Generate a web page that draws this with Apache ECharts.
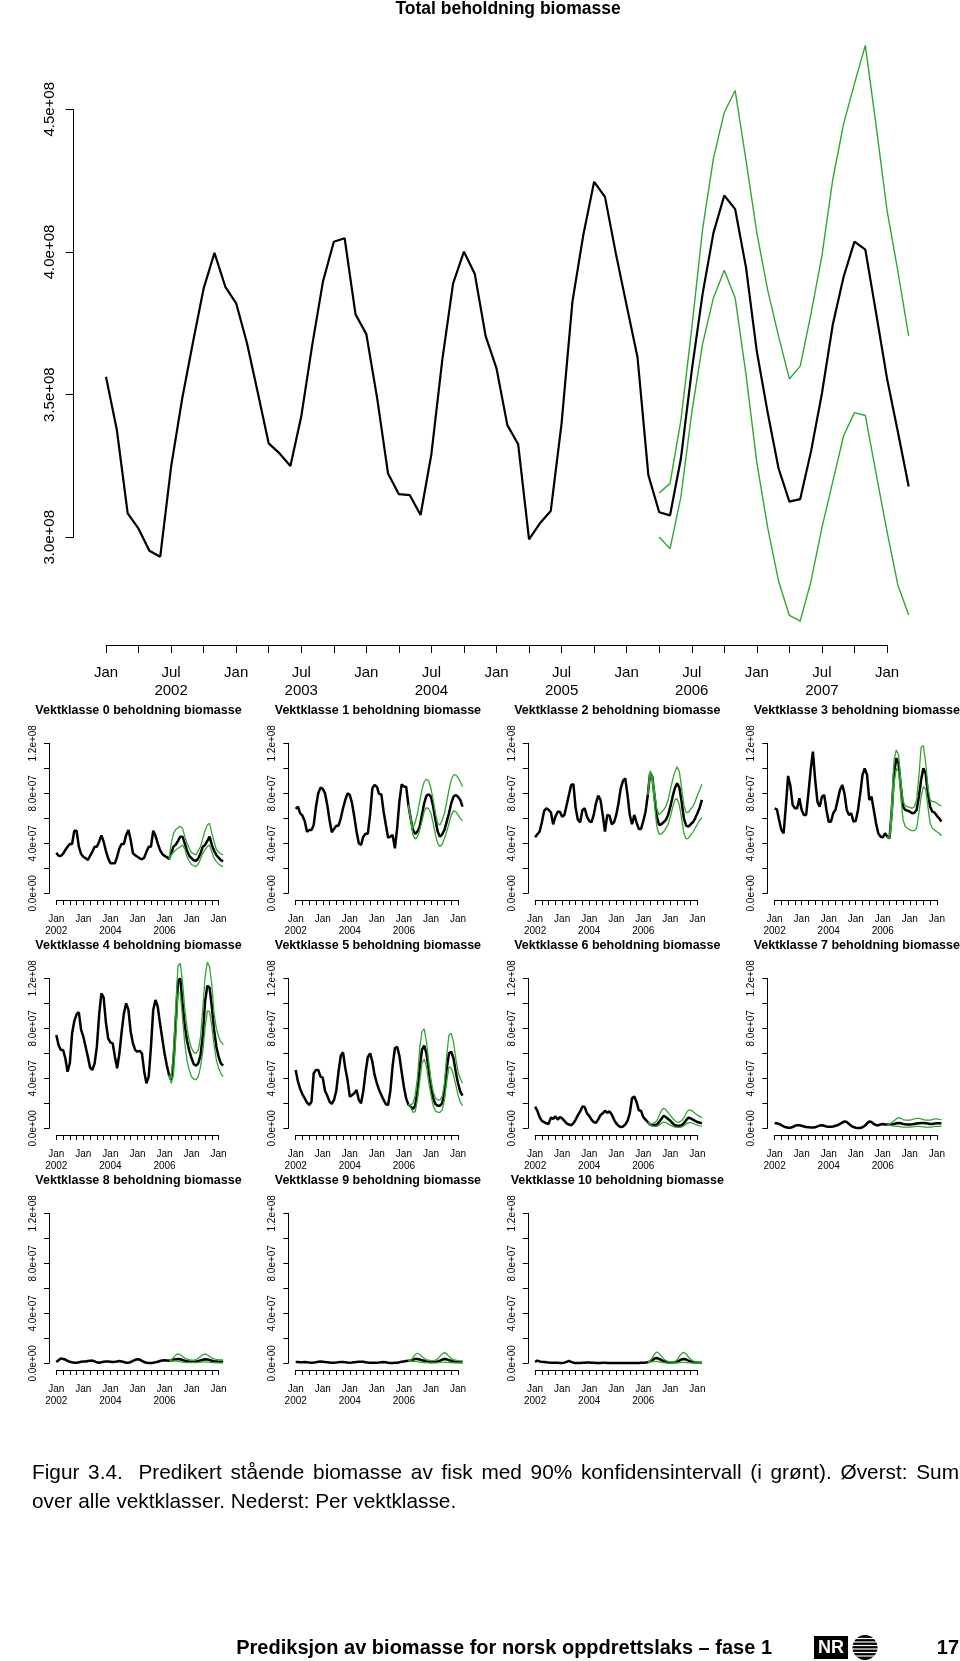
<!DOCTYPE html>
<html>
<head>
<meta charset="utf-8">
<script src="https://cdn.jsdelivr.net/npm/echarts@6/dist/echarts.min.js"></script>
<style>
html,body{margin:0;padding:0;background:#fff;}
#chart{width:960px;height:1661px;}
</style>
</head>
<body>
<div id="chart"></div>
<script>
// ---- DATA (values in millions; month index 0 = Jan 2002) ----
const firstYear = 2002;
const totalTitle = 'Total beholdning biomasse';
const totalMean = [356.3,337.6,308.4,303.0,295.3,293.2,324.7,348.1,368.0,387.2,
  399.7,387.8,382.0,368.0,350.6,332.9,329.4,325.0,342.3,367.1,
  389.6,403.6,404.8,378.2,371.2,348.7,322.4,315.1,314.8,307.8,
  329.2,362.1,389.0,400.1,392.3,370.5,359.2,339.3,332.6,299.3,
  304.9,309.2,339.9,382.6,405.9,424.6,419.3,399.5,381.2,363.1,
  321.8,
  308.8,307.7,327.6,358.4,385.3,406.7,419.8,415.0,394.6,365.1,
  343.7,324.2,312.5,313.4,330.2,350.4,374.5,391.3,403.6,400.8,
  378.5,355.7,337.0,317.8];
const totalCIStart = 51;
const totalUpper = [315.5,318.9,341.0,373.2,408.0,432.8,448.9,456.6,432.2,406.7,
  386.6,370.5,355.5,360.0,378.5,398.6,425.4,444.9,459.0,472.4,444.2,414.7,393.3,370.5];
const totalLower = [300.1,296.0,314.2,343.7,367.8,383.9,393.6,383.9,357.1,326.2,
  303.4,284.7,272.6,270.6,284.7,303.4,319.5,335.6,343.7,342.7,322.2,302.1,283.3,272.8];

const panelTitles = ['Vektklasse 0 beholdning biomasse','Vektklasse 1 beholdning biomasse',
  'Vektklasse 2 beholdning biomasse','Vektklasse 3 beholdning biomasse',
  'Vektklasse 4 beholdning biomasse','Vektklasse 5 beholdning biomasse',
  'Vektklasse 6 beholdning biomasse','Vektklasse 7 beholdning biomasse',
  'Vektklasse 8 beholdning biomasse','Vektklasse 9 beholdning biomasse',
  'Vektklasse 10 beholdning biomasse'];
const panelCIStart = 50;

const vk0Mean = [32.5,30.0,29.9,31.5,34.7,37.3,39.5,39.5,50.1,50.1,
  37.3,31.5,29.3,28.0,26.7,30.0,33.3,37.3,37.3,41.3,
  46.4,41.3,34.0,28.0,24.0,24.0,24.0,29.3,36.0,39.5,
  39.5,46.7,50.7,42.7,32.0,30.5,29.3,28.0,27.2,28.5,
  33.3,37.3,37.3,50.0,46.0,40.0,34.7,31.5,30.0,29.0,
  27.5,
  32.0,37.3,39.0,42.0,45.3,45.3,40.0,34.0,30.0,28.0,26.5,26.0,28.0,32.0,37.3,38.7,42.0,45.3,38.7,34.0,30.7,28.5,26.5,25.6];
const vk0Upper = [27.5,40.0,48.0,51.0,52.5,53.5,52.0,45.3,40.0,36.0,32.5,31.5,30.7,34.0,37.3,44.0,50.0,54.7,56.0,48.0,41.3,35.0,33.0,31.5,30.7];
const vk0Lower = [27.5,30.7,33.0,34.7,36.0,37.3,38.7,35.5,29.3,25.5,23.0,22.0,21.3,23.5,27.5,32.0,35.0,37.3,38.7,33.0,28.0,25.5,23.5,22.1,21.3];

const vk1Mean = [67.5,69.3,64.0,62.1,57.9,49.3,50.7,50.7,54.7,69.3,
  80.0,84.5,83.5,80.0,70.7,58.7,48.8,51.5,54.1,54.1,
  60.0,68.0,74.7,80.0,78.7,72.0,61.3,49.3,40.0,38.7,
  45.3,47.7,47.7,62.7,84.0,86.7,85.3,79.5,79.2,65.3,
  54.7,44.5,45.3,46.7,36.0,52.0,73.3,87.2,85.3,85.3,
  70.7,
  60.0,50.7,47.5,49.3,53.3,62.7,72.0,78.1,79.2,77.3,69.3,58.7,49.3,45.3,47.2,50.7,57.3,64.0,72.0,77.3,78.7,77.3,74.7,69.3];
const vk1Upper = [70.7,60.0,52.0,56.8,64.0,73.3,82.7,89.3,91.2,89.9,84.0,74.7,64.0,56.0,54.7,58.7,64.0,73.3,82.7,90.7,94.7,94.7,92.5,89.3,85.3];
const vk1Lower = [70.7,60.0,46.7,43.5,45.3,50.7,57.3,65.3,68.5,67.5,64.0,56.0,46.7,40.0,37.3,39.2,44.0,49.3,56.0,62.7,65.9,65.3,62.7,60.0,57.9];

const vk2Mean = [44.8,47.2,49.3,56.8,65.9,68.0,66.7,64.8,55.2,61.3,
  65.3,65.3,61.3,62.7,70.7,78.7,86.7,87.2,68.0,58.7,
  56.8,66.7,68.0,61.3,57.9,56.8,62.7,72.0,78.1,74.7,
  62.7,49.3,62.7,62.1,55.2,56.8,62.7,72.0,84.0,89.9,
  92.0,78.7,62.7,55.2,62.7,56.8,51.5,51.5,57.9,65.3,
  78.7,
  96.0,93.3,77.3,61.3,54.7,55.2,56.8,58.7,62.7,69.3,77.3,84.0,88.0,84.5,73.3,60.0,54.1,53.3,55.2,56.8,60.0,64.0,68.5,74.7];
const vk2Upper = [78.7,97.9,94.7,81.3,67.5,62.7,64.8,66.7,69.3,74.7,82.7,90.7,97.3,101.3,97.3,84.0,70.7,64.8,64.8,67.5,69.3,73.3,78.7,82.7,87.2];
const vk2Lower = [78.7,96.0,90.7,70.7,53.3,47.2,47.5,49.3,52.0,55.2,61.3,68.5,74.7,75.7,70.7,60.0,48.0,43.5,44.0,46.7,48.8,52.0,55.2,58.7,60.5];

const vk3Mean = [68.0,67.2,58.7,50.7,48.0,70.0,93.9,86.0,70.7,68.0,
  68.0,76.0,66.7,62.7,62.7,80.0,98.7,113.3,90.7,73.3,
  69.3,77.3,78.7,66.7,57.3,57.3,64.0,66.7,74.7,82.7,
  86.7,80.0,66.7,62.7,64.0,57.3,58.0,66.7,80.0,94.7,
  100.0,94.7,74.7,77.3,66.7,56.0,48.0,45.3,44.8,48.0,
  45.3,
  44.0,66.7,96.0,108.0,104.0,85.3,69.3,66.7,66.1,65.3,64.0,64.5,66.7,77.3,90.7,100.0,96.0,80.0,69.3,65.3,64.5,62.0,60.0,57.3];
const vk3Upper = [45.3,44.0,74.7,106.7,114.7,110.7,89.3,73.3,69.9,69.3,68.8,68.0,69.3,74.7,93.3,117.0,118.0,105.0,85.0,74.7,73.3,73.3,72.0,70.7,69.9];
const vk3Lower = [45.3,44.0,58.7,88.0,100.0,97.3,77.3,58.7,53.3,52.0,50.7,50.1,50.1,52.0,64.0,77.3,85.3,83.2,69.3,56.0,52.0,50.7,49.3,48.0,46.0];

const vk4Mean = [74.7,66.7,62.7,62.7,56.0,45.3,52.0,76.0,85.9,91.2,
  92.8,78.7,73.3,65.3,57.3,48.5,46.7,52.0,65.3,90.7,
  108.0,104.5,84.8,72.0,68.8,68.0,57.3,48.0,60.0,77.3,
  92.0,100.0,94.7,77.3,68.0,62.7,61.3,61.9,60.0,45.3,
  36.0,41.3,65.3,94.7,102.7,97.3,84.0,72.0,60.0,50.7,
  42.7,
  38.7,53.3,85.0,118.0,120.0,100.0,82.0,70.0,62.0,56.0,51.2,50.1,52.0,58.7,74.7,101.3,114.1,112.5,97.3,78.7,65.3,57.3,52.0,50.1];
const vk4Upper = [42.7,40.0,64.0,98.0,130.0,132.0,117.0,96.0,80.0,70.0,64.0,60.8,60.0,62.7,73.3,96.0,121.3,132.8,129.3,114.7,92.0,80.0,73.3,69.3,66.7];
const vk4Lower = [42.7,36.0,42.7,72.0,108.0,108.0,88.0,68.0,54.0,46.5,41.3,39.5,38.7,41.3,49.3,61.3,80.0,93.9,93.3,81.3,66.7,54.7,48.0,44.0,41.3];

const vk5Mean = [46.7,37.3,31.5,27.2,24.0,20.5,18.7,21.3,44.0,46.7,
  46.7,41.3,40.5,30.0,26.1,21.3,19.5,22.7,30.0,45.3,
  58.0,60.8,48.0,38.7,25.3,26.7,28.0,30.7,22.7,20.0,
  30.0,45.0,57.0,60.0,53.3,42.7,36.0,30.7,26.7,22.7,
  19.2,18.7,30.0,50.0,64.0,65.3,58.0,45.0,33.0,24.0,
  19.0,
  17.3,15.5,18.1,29.3,48.0,62.7,66.1,60.0,46.7,33.3,24.0,19.2,18.1,18.1,20.0,29.3,48.0,60.0,61.3,56.0,45.3,36.0,29.3,26.1];
const vk5Upper = [19.0,18.7,20.0,26.7,40.0,64.0,77.3,79.5,69.3,53.3,38.7,29.3,24.0,22.7,22.7,25.3,36.0,58.7,74.7,76.0,69.3,56.0,45.3,40.0,36.0];
const vk5Lower = [19.0,16.5,12.8,13.3,22.7,37.3,52.0,55.5,49.3,37.3,26.7,18.1,13.9,12.8,12.8,14.7,22.7,37.3,49.3,48.0,42.7,34.7,26.7,21.3,18.1];

const vk6Mean = [17.3,14.0,9.0,6.0,5.0,4.0,3.5,8.5,7.5,9.5,
  7.0,9.0,8.0,6.0,4.0,3.0,2.5,4.0,7.0,10.5,
  13.5,17.5,17.0,12.0,10.0,7.0,5.0,4.5,7.0,10.5,
  12.0,14.0,12.5,13.5,11.0,7.0,4.0,2.0,1.0,1.5,
  3.0,6.0,12.0,24.0,25.5,21.0,14.5,14.0,9.0,7.0,
  5.0,
  3.0,2.5,2.5,3.0,5.0,7.5,10.0,9.0,7.5,6.0,4.0,2.5,2.0,2.0,2.5,4.0,6.5,8.5,8.0,7.0,6.0,5.0,4.5,4.0];
const vk6Upper = [5.0,3.5,3.5,4.5,6.0,10.0,14.0,16.0,15.0,12.5,10.5,8.0,6.0,5.0,5.0,6.0,8.5,12.0,14.5,14.5,13.5,12.0,10.5,9.5,8.5];
const vk6Lower = [5.0,2.5,1.8,1.5,1.5,2.5,4.0,5.0,4.5,3.5,2.5,1.5,1.0,0.8,0.8,1.0,2.0,3.5,4.5,4.5,4.0,3.0,2.5,2.0,1.8];

const vk7Mean = [4.0,4.0,3.5,2.5,1.5,0.8,0.5,0.5,1.0,2.0,
  2.5,2.5,2.0,1.5,1.0,0.8,0.6,0.6,0.8,1.5,
  2.2,2.5,2.0,1.5,1.2,1.2,1.5,2.0,2.5,3.5,
  4.5,5.5,5.0,3.5,2.0,1.0,0.5,0.3,0.3,0.8,
  2.0,4.0,5.5,5.0,3.5,2.5,2.5,3.0,3.5,3.0,
  3.0,
  3.0,3.2,3.5,4.0,4.3,4.0,3.5,3.2,3.0,3.0,3.2,3.5,3.8,4.0,4.2,4.2,4.0,3.8,3.5,3.5,3.8,4.0,4.0,3.8];
const vk7Upper = [3.0,3.5,4.5,6.0,7.5,8.5,8.0,7.0,6.5,6.5,6.5,7.0,7.5,8.0,8.0,7.5,7.0,6.5,6.5,6.5,7.0,7.5,7.5,7.2,7.0];
const vk7Lower = [3.0,2.5,2.0,1.8,1.5,1.5,1.2,1.0,1.0,1.0,1.0,1.2,1.3,1.5,1.5,1.3,1.2,1.0,1.0,1.0,1.2,1.5,1.5,1.5,1.5];

const vk8Mean = [1.0,2.5,3.8,3.5,3.0,2.0,1.2,0.8,0.5,0.5,
  0.8,1.2,1.5,1.5,1.8,2.0,2.2,1.5,0.8,0.5,
  0.8,1.2,1.5,1.5,1.3,1.0,1.2,1.5,1.8,1.5,
  1.0,0.5,0.5,1.0,2.0,2.8,3.2,3.0,2.0,1.0,
  0.5,0.3,0.3,0.5,0.8,1.2,1.8,2.2,2.5,2.3,
  2.0,
  2.5,3.0,3.3,3.5,3.2,2.6,2.0,1.6,1.4,1.3,1.3,1.5,1.8,2.3,2.8,3.2,3.0,2.6,2.0,1.7,1.5,1.3,1.2,1.2];
const vk8Upper = [2.0,3.0,4.5,6.5,7.5,7.0,5.5,4.2,3.4,2.9,2.6,2.6,3.0,4.0,5.5,7.0,7.5,6.8,5.5,4.2,3.5,3.2,3.0,2.8,2.8];
const vk8Lower = [2.0,2.0,1.8,1.8,1.5,1.2,1.0,0.8,0.6,0.5,0.5,0.5,0.6,0.8,1.0,1.2,1.2,1.0,0.8,0.6,0.5,0.4,0.3,0.3,0.3];

const vk9Mean = [1.0,1.0,0.8,0.8,1.0,0.8,0.6,0.5,0.6,0.8,
  1.2,1.5,1.3,1.0,0.8,0.6,0.5,0.5,0.6,0.8,
  1.0,1.0,0.8,0.6,0.5,0.6,0.8,1.0,1.2,1.3,
  1.2,0.8,0.6,0.5,0.4,0.4,0.5,0.6,0.8,1.0,
  0.8,0.5,0.3,0.3,0.4,0.5,0.8,1.2,1.5,1.8,
  2.0,
  2.2,2.8,3.5,3.5,3.0,2.5,2.0,1.5,1.2,1.0,1.0,1.2,1.5,2.2,3.0,3.5,3.2,2.5,2.0,1.5,1.2,1.0,1.0,1.0];
const vk9Upper = [2.0,2.5,4.5,7.0,8.0,7.0,5.5,4.0,3.0,2.5,2.2,2.2,2.5,3.5,5.5,7.5,8.5,7.5,5.5,4.0,3.0,2.5,2.2,2.0,2.0];
const vk9Lower = [2.0,1.8,1.5,1.5,1.3,1.0,0.8,0.6,0.5,0.4,0.3,0.3,0.4,0.5,0.7,1.0,1.0,0.8,0.6,0.5,0.4,0.3,0.3,0.3,0.3];

const vk10Mean = [1.0,2.2,1.5,1.2,1.0,0.8,0.6,0.5,0.5,0.5,
  0.4,0.3,0.3,0.5,1.2,2.0,1.2,0.5,0.3,0.3,
  0.3,0.4,0.5,0.6,0.6,0.5,0.4,0.3,0.3,0.3,
  0.4,0.4,0.3,0.3,0.3,0.3,0.3,0.3,0.3,0.3,
  0.3,0.3,0.3,0.3,0.3,0.3,0.3,0.4,0.5,0.6,
  0.8,
  1.5,2.5,3.8,4.2,3.5,2.5,1.8,1.2,0.8,0.6,0.6,0.8,1.2,2.2,3.2,3.5,3.0,2.2,1.5,1.0,0.8,0.6,0.5,0.5];
const vk10Upper = [0.8,2.0,4.5,7.5,9.0,8.0,5.5,3.5,2.2,1.5,1.2,1.2,1.5,2.8,5.5,8.0,8.8,7.5,5.0,3.2,2.0,1.5,1.2,1.0,1.0];
const vk10Lower = [0.8,1.2,1.2,1.5,1.5,1.2,0.8,0.5,0.3,0.2,0.2,0.2,0.3,0.4,0.6,0.8,0.8,0.6,0.4,0.3,0.2,0.2,0.1,0.1,0.1];

const captionLine1 = 'Figur 3.4.  Predikert stående biomasse av fisk med 90% konfidensintervall (i grønt). Øverst: Sum';
const captionLine2 = 'over alle vektklasser. Nederst: Per vektklasse.';
const footerText = 'Prediksjon av biomasse for norsk oppdrettslaks – fase 1';
const pageNumber = '17';

// ---- LAYOUT ----
const FONT = '"Liberation Sans", Arial, Helvetica, sans-serif';
const GREEN = '#2fa82f';
const panels = [
  [vk0Mean, vk0Upper, vk0Lower], [vk1Mean, vk1Upper, vk1Lower],
  [vk2Mean, vk2Upper, vk2Lower], [vk3Mean, vk3Upper, vk3Lower],
  [vk4Mean, vk4Upper, vk4Lower], [vk5Mean, vk5Upper, vk5Lower],
  [vk6Mean, vk6Upper, vk6Lower], [vk7Mean, vk7Upper, vk7Lower],
  [vk8Mean, vk8Upper, vk8Lower], [vk9Mean, vk9Upper, vk9Lower],
  [vk10Mean, vk10Upper, vk10Lower]
];
const colX = [0, 239.4, 478.8, 718.3];
const rowTop = [743.3, 978.3, 1213.3];
const rowTitleY = [711, 946, 1181];

function sci(v) {
  const s = (v * 1e6).toExponential(1);
  const m = s.match(/^(-?[\d.]+)e([+-])(\d+)$/);
  return m[1] + 'e' + m[2] + m[3].padStart(2, '0');
}

const grids = [], xAxes = [], yAxes = [], series = [], graphics = [];

function lineSeries(idx, data, color, width, z) {
  return {type: 'line', xAxisIndex: idx, yAxisIndex: idx, data: data,
    showSymbol: false, symbol: 'none', silent: true,
    lineStyle: {color: color, width: width}, itemStyle: {color: color}, z: z};
}
function hiddenAxis(idx, min, max) {
  return {type: 'value', gridIndex: idx, min: min, max: max, show: false,
    splitLine: {show: false}, axisLine: {show: false}, axisTick: {show: false}, axisLabel: {show: false}};
}

// Adds an axis frame (visible axes) + a data frame (hidden axes spanning a larger area, same scale)
function addChart(ax, dataBox, xFmt, yFmt, style) {
  const ppx = ax.width / (ax.xMax - ax.xMin);
  const ppy = ax.height / (ax.yMax - ax.yMin);
  const gi = grids.length;
  grids.push({left: ax.left, top: ax.top, width: ax.width, height: ax.height});
  xAxes.push({type: 'value', gridIndex: gi, min: ax.xMin, max: ax.xMax, interval: ax.xInt, offset: ax.xOffset,
    splitLine: {show: false},
    axisLine: {onZero: false, lineStyle: {color: '#000', width: 1}},
    axisTick: {length: style.tick, lineStyle: {color: '#000', width: 1}},
    axisLabel: {color: '#000', fontFamily: FONT, fontSize: style.font, lineHeight: style.lh, margin: style.xMargin,
      formatter: xFmt}});
  yAxes.push({type: 'value', gridIndex: gi, min: ax.yMin, max: ax.yMax, interval: ax.yInt, offset: ax.yOffset,
    splitLine: {show: false},
    axisLine: {show: true, onZero: false, lineStyle: {color: '#000', width: 1}},
    axisTick: {show: true, length: style.tick, lineStyle: {color: '#000', width: 1}},
    axisLabel: {color: '#000', fontFamily: FONT, fontSize: style.font, rotate: 90, margin: style.yMargin,
      formatter: yFmt}});
  const di = grids.length;
  const L = dataBox.left, R = dataBox.right, T = dataBox.top, B = dataBox.bottom;
  grids.push({left: L, top: T, width: R - L, height: B - T});
  xAxes.push(hiddenAxis(di, ax.xMin + (L - ax.left) / ppx, ax.xMin + (R - ax.left) / ppx));
  yAxes.push(hiddenAxis(di, ax.yMin - (B - (ax.top + ax.height)) / ppy, ax.yMax + (ax.top - T) / ppy));
  return di;
}

// top chart
const topIdx = addChart(
  {left: 106, top: 109.3, width: 781, height: 428, xMin: 0, xMax: 72, xInt: 3, yMin: 300, yMax: 450, yInt: 50,
   xOffset: 107.7, yOffset: 32.5},
  {left: 60, right: 950, top: 15, bottom: 655},
  function (v) {
    const m = v % 12;
    if (m === 0) return 'Jan';
    if (m === 6) return 'Jul\n' + (firstYear + Math.floor(v / 12));
    return '';
  },
  function (v) { return sci(v); },
  {tick: 8, font: 15, lh: 18, xMargin: 19, yMargin: 16});
series.push(lineSeries(topIdx, totalMean.map((v, i) => [i, v]), '#000', 2.2, 2));
series.push(lineSeries(topIdx, totalUpper.map((v, k) => [totalCIStart + k, v]), GREEN, 1.4, 3));
series.push(lineSeries(topIdx, totalLower.map((v, k) => [totalCIStart + k, v]), GREEN, 1.4, 3));
graphics.push({type: 'text', x: 508, y: 9.5, style: {text: totalTitle,
  font: 'bold 17.5px ' + FONT, fill: '#000', align: 'center', verticalAlign: 'middle'}});

// small panels
panels.forEach(function (p, k) {
  const r = Math.floor(k / 4), c = k % 4;
  const idx = addChart(
    {left: colX[c] + 56.3, top: rowTop[r], width: 162.3, height: 150, xMin: 0, xMax: 72, xInt: 3,
     yMin: 0, yMax: 120, yInt: 20, xOffset: 6.7, yOffset: 7.3},
    {left: colX[c] + 45, right: colX[c] + 234, top: rowTop[r] - 25, bottom: rowTop[r] + 160},
    function (v) {
      if (v % 12 !== 0) return '';
      const y = firstYear + v / 12;
      return (y % 2 === 0 && y < 2008) ? 'Jan\n' + y : 'Jan';
    },
    function (v) { return v % 40 === 0 ? sci(v) : ''; },
    {tick: 5, font: 10, lh: 11.5, xMargin: 13.5, yMargin: 11});
  series.push(lineSeries(idx, p[0].map((v, i) => [i, v]), '#000', 2.5, 2));
  series.push(lineSeries(idx, p[1].map((v, j) => [panelCIStart + j, v]), GREEN, 1.3, 3));
  series.push(lineSeries(idx, p[2].map((v, j) => [panelCIStart + j, v]), GREEN, 1.3, 3));
  graphics.push({type: 'text', x: colX[c] + 138.5, y: rowTitleY[r], style: {text: panelTitles[k],
    font: 'bold 12.5px ' + FONT, fill: '#000', align: 'center', verticalAlign: 'middle'}});
});

// caption (first line justified like the source document; a double space counts as a wider gap)
const capFont = '20.8px ' + FONT;
(function () {
  const ctx = document.createElement('canvas').getContext('2d');
  ctx.font = capFont;
  const tokens = captionLine1.split(' ');
  const words = [], gapsBefore = [];
  let pending = 0;
  tokens.forEach(function (t) {
    if (t === '') { pending += 0.8; return; }
    gapsBefore.push(words.length === 0 ? 0 : 1 + pending);
    pending = 0;
    words.push(t);
  });
  const widths = words.map(w => ctx.measureText(w).width);
  const x0 = 32, x1 = 959;
  const totalW = widths.reduce((a, b) => a + b, 0);
  const units = gapsBefore.reduce((a, b) => a + b, 0);
  const gap = (x1 - x0 - totalW) / units;
  let x = x0;
  words.forEach(function (w, i) {
    x += gapsBefore[i] * gap;
    graphics.push({type: 'text', x: x, y: 1473, style: {text: w, font: capFont, fill: '#000',
      align: 'left', verticalAlign: 'middle'}});
    x += widths[i];
  });
})();
graphics.push({type: 'text', x: 32, y: 1502.5, style: {text: captionLine2,
  font: capFont, fill: '#000', align: 'left', verticalAlign: 'middle'}});
graphics.push({type: 'text', x: 772, y: 1648, style: {text: footerText,
  font: 'bold 20px ' + FONT, fill: '#000', align: 'right', verticalAlign: 'middle'}});
graphics.push({type: 'text', x: 959, y: 1648, style: {text: pageNumber,
  font: 'bold 20px ' + FONT, fill: '#000', align: 'right', verticalAlign: 'middle'}});
// NR logo
graphics.push({type: 'rect', shape: {x: 814, y: 1636, width: 34, height: 23}, style: {fill: '#000'}});
graphics.push({type: 'text', x: 831, y: 1648, style: {text: 'NR', font: 'bold 18px ' + FONT,
  fill: '#fff', align: 'center', verticalAlign: 'middle'}});
graphics.push({type: 'circle', shape: {cx: 865, cy: 1647.5, r: 12.5}, style: {fill: '#000'}});
[1638.5, 1642, 1645.5, 1649, 1652.5, 1656].forEach(function (yy) {
  graphics.push({type: 'line', shape: {x1: 851, y1: yy, x2: 879, y2: yy},
    style: {stroke: '#fff', lineWidth: 1.2}, z: 10});
});

const chart = echarts.init(document.getElementById('chart'), null, {renderer: 'canvas'});
chart.setOption({
  animation: false,
  backgroundColor: '#fff',
  grid: grids,
  xAxis: xAxes,
  yAxis: yAxes,
  series: series,
  graphic: graphics
});
</script>
</body>
</html>
